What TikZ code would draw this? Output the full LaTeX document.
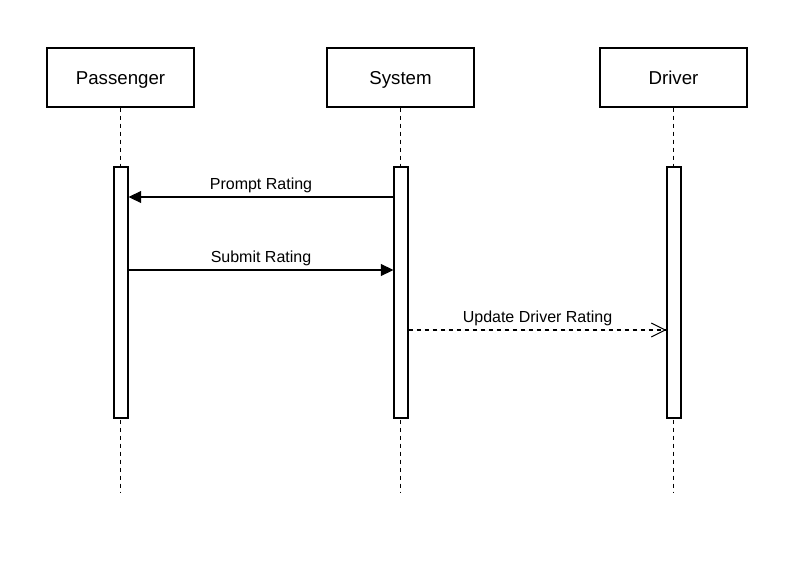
\documentclass[tikz,border=0pt]{standalone}
\usepackage{fontspec}
\setmainfont{Liberation Sans}
\usetikzlibrary{arrows.meta, positioning, calc}

\tikzset{
  actor/.style={draw, line width=0.8pt, minimum width=110.25pt, minimum height=44.25pt, text height=11.5pt, text depth=1.5pt, font=\fontsize{14}{16}\selectfont},
  bar/.style={draw, fill=white, line width=0.8pt, minimum width=10.5pt, minimum height=188.25pt, inner sep=0pt},
  life/.style={line width=0.8pt, dash pattern=on 3pt off 3pt},
  call/.style={line width=0.8pt, -{Triangle[length=9.5pt,width=9pt]}},
  reply/.style={line width=0.8pt, dash pattern=on 3pt off 3pt, -{Straight Barb[length=10.5pt,width=10.5pt]}},
  lbl/.style={font=\fontsize{12}{14}\selectfont, text height=9pt, text depth=2.5pt, above=-0.5pt}
}

\begin{document}
\begin{tikzpicture}[x=0.75pt, y=-0.75pt]
\useasboundingbox (0,0) rectangle (797,575);

% Actors
\node[actor] (pas) at (120.5,77.5) {Passenger};
\node[actor] (sys) at (400.5,77.5) {System};
\node[actor] (drv) at (673.5,77.5) {Driver};

% Lifelines
\draw[life] (pas.south) -- (pas.south |- 0,492);
\draw[life] (sys.south) -- (sys.south |- 0,492);
\draw[life] (drv.south) -- (drv.south |- 0,492);

% Activation bars
\node[bar] (pasbar) at (121,292.5) {};
\node[bar] (sysbar) at (401,292.5) {};
\node[bar] (drvbar) at (674,292.5) {};

% Messages
\draw[call] (sysbar.west |- 0,197) -- node[lbl] (prompt) {Prompt Rating} (pasbar.east |- 0,197);
\draw[call] (pasbar.east |- 0,270) -- node[lbl] (submit) {Submit Rating} (sysbar.west |- 0,270);
\draw[reply] (sysbar.east |- 0,330) -- node[lbl] (update) {Update Driver Rating} (drvbar.west |- 0,330);
\end{tikzpicture}
\end{document}
